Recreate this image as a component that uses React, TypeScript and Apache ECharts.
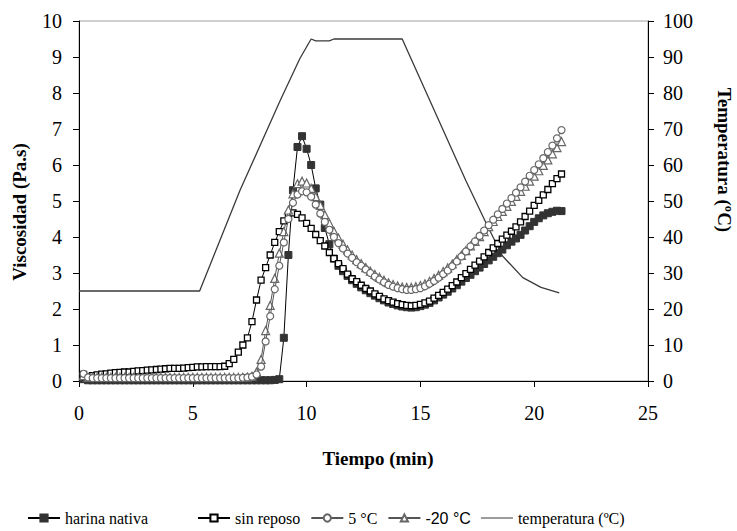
import React, { useEffect, useRef } from "react";
import * as echarts from "echarts";

// time axis (min) shared by the viscosity series
const times = [
  0.2, 0.4, 0.6, 0.8, 1.0, 1.2, 1.4, 1.6, 1.8, 2.0,
  2.2, 2.4, 2.6, 2.8, 3.0, 3.2, 3.4, 3.6, 3.8, 4.0,
  4.2, 4.4, 4.6, 4.8, 5.0, 5.2, 5.4, 5.6, 5.8, 6.0,
  6.2, 6.4, 6.6, 6.8, 7.0, 7.2, 7.4, 7.6, 7.8, 8.0,
  8.2, 8.4, 8.6, 8.8, 9.0, 9.2, 9.4, 9.6, 9.8, 10.0,
  10.2, 10.4, 10.6, 10.8, 11.0, 11.2, 11.4, 11.6, 11.8, 12.0,
  12.2, 12.4, 12.6, 12.8, 13.0, 13.2, 13.4, 13.6, 13.8, 14.0,
  14.2, 14.4, 14.6, 14.8, 15.0, 15.2, 15.4, 15.6, 15.8, 16.0,
  16.2, 16.4, 16.6, 16.8, 17.0, 17.2, 17.4, 17.6, 17.8, 18.0,
  18.2, 18.4, 18.6, 18.8, 19.0, 19.2, 19.4, 19.6, 19.8, 20.0,
  20.2, 20.4, 20.6, 20.8, 21.0, 21.2,
];

const harinaNativa = [
  0.05, 0.02, 0.02, 0.02, 0.02, 0.02, 0.02, 0.02, 0.02, 0.02,
  0.02, 0.02, 0.02, 0.02, 0.02, 0.02, 0.02, 0.02, 0.02, 0.02,
  0.02, 0.02, 0.02, 0.02, 0.02, 0.02, 0.02, 0.02, 0.02, 0.02,
  0.02, 0.02, 0.02, 0.02, 0.02, 0.02, 0.02, 0.02, 0.02, 0.02,
  0.02, 0.02, 0.03, 0.05, 1.2, 3.5, 5.3, 6.5, 6.8, 6.45,
  6.0, 5.35, 4.9, 4.25, 3.8, 3.4, 3.2, 3.05, 2.92, 2.8,
  2.7, 2.6, 2.52, 2.44, 2.37, 2.3, 2.24, 2.18, 2.14, 2.1,
  2.07, 2.05, 2.04, 2.05, 2.08, 2.12, 2.17, 2.24, 2.32, 2.4,
  2.48, 2.57, 2.66, 2.76, 2.86, 2.95, 3.05, 3.15, 3.25, 3.35,
  3.45, 3.55, 3.65, 3.77, 3.87, 3.96, 4.06, 4.18, 4.3, 4.42,
  4.52, 4.6, 4.66, 4.7, 4.73, 4.72,
];

const sinReposo = [
  0.18, 0.12, 0.15, 0.17, 0.19, 0.2, 0.22, 0.23, 0.24, 0.25,
  0.25, 0.27, 0.28, 0.29, 0.3, 0.31, 0.32, 0.33, 0.34, 0.35,
  0.35, 0.35, 0.36, 0.37, 0.38, 0.39, 0.39, 0.4, 0.4, 0.4,
  0.4, 0.41, 0.48, 0.6, 0.8, 1.0, 1.2, 1.65, 2.25, 2.8,
  3.15, 3.5, 3.85, 4.15, 4.45, 4.6, 4.67, 4.63, 4.53, 4.38,
  4.24, 4.07, 3.9, 3.75, 3.57, 3.4, 3.26, 3.12, 2.97, 2.84,
  2.76, 2.66, 2.57, 2.5, 2.42, 2.35, 2.28, 2.23, 2.19, 2.15,
  2.12, 2.1, 2.09, 2.1, 2.13, 2.17, 2.22, 2.3, 2.38, 2.46,
  2.55, 2.65, 2.75, 2.87, 2.98, 3.1, 3.22, 3.33, 3.45, 3.57,
  3.7, 3.82, 3.94, 4.05, 4.16, 4.28, 4.42, 4.57, 4.72, 4.88,
  5.02, 5.17, 5.32, 5.48, 5.62, 5.75,
];

const cinco = [
  0.2, 0.1, 0.08, 0.08, 0.08, 0.08, 0.08, 0.08, 0.08, 0.08,
  0.08, 0.08, 0.08, 0.08, 0.08, 0.08, 0.08, 0.08, 0.08, 0.08,
  0.08, 0.08, 0.08, 0.08, 0.08, 0.08, 0.08, 0.08, 0.08, 0.08,
  0.08, 0.08, 0.08, 0.08, 0.08, 0.09, 0.1, 0.12, 0.18, 0.4,
  1.1, 1.8, 2.55, 3.2, 3.85, 4.5, 4.95, 5.18, 5.27, 5.24,
  5.12, 4.9, 4.65, 4.42, 4.2, 4.0, 3.83, 3.68, 3.54, 3.42,
  3.3, 3.2, 3.1, 3.0, 2.9, 2.82, 2.74, 2.67, 2.62, 2.58,
  2.55, 2.53, 2.53, 2.55, 2.58, 2.63, 2.7, 2.78, 2.87, 2.97,
  3.07, 3.19, 3.32, 3.46, 3.6, 3.74, 3.88, 4.03, 4.18, 4.33,
  4.48, 4.63, 4.78, 4.93, 5.08, 5.23, 5.38, 5.54, 5.7, 5.86,
  6.02, 6.19, 6.36, 6.54, 6.74, 6.97,
];

const menos20 = [
  0.15, 0.1, 0.1, 0.1, 0.1, 0.1, 0.1, 0.1, 0.1, 0.1,
  0.1, 0.1, 0.1, 0.1, 0.1, 0.1, 0.1, 0.1, 0.1, 0.1,
  0.1, 0.1, 0.1, 0.1, 0.1, 0.1, 0.1, 0.1, 0.1, 0.1,
  0.1, 0.1, 0.1, 0.1, 0.1, 0.1, 0.11, 0.13, 0.25, 0.6,
  1.4, 2.1, 2.85, 3.55, 4.15, 4.75, 5.2, 5.48, 5.55, 5.5,
  5.35, 5.12, 4.88, 4.62, 4.38, 4.16, 3.97, 3.8, 3.64, 3.5,
  3.37, 3.26, 3.15, 3.05, 2.96, 2.88, 2.8, 2.73, 2.68, 2.64,
  2.61, 2.6, 2.6, 2.62, 2.65, 2.7, 2.77, 2.85, 2.94, 3.04,
  3.14, 3.25, 3.37, 3.49, 3.62, 3.75, 3.88, 4.01, 4.15, 4.29,
  4.43, 4.57, 4.71, 4.85, 4.99, 5.13, 5.27, 5.41, 5.55, 5.69,
  5.84, 5.99, 6.14, 6.31, 6.48, 6.65,
];

// temperature trace (right axis, ºC)
const tempTimes = [0, 5.3, 7.07, 8.83, 9.7, 10.2, 10.4, 11.0, 11.2, 14.2, 17.0, 17.9, 18.6, 19.5, 20.3, 21.1];
const tempValues = [25, 25, 52.9, 77.8, 89.5, 95, 94.5, 94.5, 95, 95, 55.6, 43.7, 34.8, 28.7, 26, 24.5];

const xTicks = { min: 0, max: 25, interval: 5 };
const yLeftTicks = { min: 0, max: 10, interval: 1 };
const yRightTicks = { min: 0, max: 100, interval: 10 };

const names = ["harina nativa", "sin reposo", "5 °C", "-20 °C", "temperatura (ºC)"];

const SERIF = "'Liberation Serif', 'Times New Roman', serif";
const SANS = "'Liberation Sans', Arial, sans-serif";

export default function App() {
  const ref = useRef<HTMLDivElement>(null);
  useEffect(() => {
    if (!ref.current) return;
    const chart = echarts.init(ref.current, undefined, { renderer: "svg" });
    const pair = (arr: number[]) => times.map((t, i) => [t, arr[i]]);
    const axisCommon = {
      axisLine: { show: true, lineStyle: { color: "#000", width: 1 } },
      axisTick: { show: true, length: 6, lineStyle: { color: "#000" } },
      splitLine: { show: false },
    };
    const legendText = { fontFamily: SERIF, fontSize: 16, color: "#000" };
    chart.setOption({
      animation: false,
      backgroundColor: "#fff",
      grid: { left: 79, right: 89, top: 21, bottom: 150, show: true, borderColor: "#a0a0a0", borderWidth: 1 },
      xAxis: {
        type: "value",
        ...xTicks,
        ...axisCommon,
        axisLabel: { fontFamily: SERIF, fontSize: 20, color: "#000", margin: 22 },
      },
      yAxis: [
        {
          type: "value",
          position: "left",
          ...yLeftTicks,
          ...axisCommon,
          axisLabel: { fontFamily: SERIF, fontSize: 20, color: "#000", margin: 17 },
        },
        {
          type: "value",
          position: "right",
          ...yRightTicks,
          ...axisCommon,
          axisLabel: { fontFamily: SERIF, fontSize: 20, color: "#000", margin: 15 },
        },
      ],
      legend: [
        {
          data: [names[0]],
          left: 27,
          top: 510,
          padding: 0,
          itemWidth: 32,
          itemHeight: 9,
          textStyle: legendText,
        },
        {
          data: [
            names[1],
            names[2],
            { name: names[3], textStyle: { fontFamily: SANS, fontSize: 16, color: "#000" } },
            { name: names[4], icon: "path://M0,0h32v1.2H0z" },
          ],
          left: 197,
          top: 510,
          padding: 0,
          itemWidth: 32,
          itemHeight: 9,
          itemGap: 10,
          textStyle: legendText,
        },
      ],
      graphic: [
        {
          type: "text",
          x: 378,
          y: 458,
          style: { text: "Tiempo (min)", font: `bold 19px ${SERIF}`, fill: "#000", align: "center", verticalAlign: "middle" },
        },
        {
          type: "text",
          x: 19,
          y: 212,
          rotation: Math.PI / 2,
          style: { text: "Viscosidad (Pa.s)", font: `bold 19px ${SERIF}`, fill: "#000", align: "center", verticalAlign: "middle" },
        },
        {
          type: "text",
          x: 724,
          y: 160,
          rotation: -Math.PI / 2,
          style: { text: "Temperatura (ºC)", font: `bold 19px ${SERIF}`, fill: "#000", align: "center", verticalAlign: "middle" },
        },
      ],
      series: [
        {
          name: names[4],
          type: "line",
          yAxisIndex: 1,
          data: tempTimes.map((t, i) => [t, tempValues[i]]),
          showSymbol: false,
          symbol: "none",
          lineStyle: { color: "#3a3a3a", width: 1.3 },
          itemStyle: { color: "#3a3a3a" },
          z: 1,
        },
        {
          name: names[1],
          type: "line",
          data: pair(sinReposo),
          symbol: "rect",
          symbolSize: 6,
          lineStyle: { color: "#000", width: 1 },
          itemStyle: { color: "#fff", borderColor: "#000", borderWidth: 1.3 },
          z: 3,
        },
        {
          name: names[0],
          type: "line",
          data: pair(harinaNativa),
          symbol: "rect",
          symbolSize: 7,
          lineStyle: { color: "#000", width: 1 },
          itemStyle: { color: "#333", borderColor: "#333", borderWidth: 1 },
          z: 2,
        },
        {
          name: names[3],
          type: "line",
          data: pair(menos20),
          symbol: "triangle",
          symbolSize: 8,
          lineStyle: { color: "#555", width: 1 },
          itemStyle: { color: "#fff", borderColor: "#666", borderWidth: 1.2 },
          z: 4,
        },
        {
          name: names[2],
          type: "line",
          data: pair(cinco),
          symbol: "circle",
          symbolSize: 7,
          lineStyle: { color: "#555", width: 1 },
          itemStyle: { color: "#fff", borderColor: "#666", borderWidth: 1.2 },
          z: 5,
        },
      ],
    });
    return () => chart.dispose();
  }, []);
  return <div ref={ref} style={{ position: "fixed", left: 0, top: 0, width: 737, height: 531 }} />;
}
